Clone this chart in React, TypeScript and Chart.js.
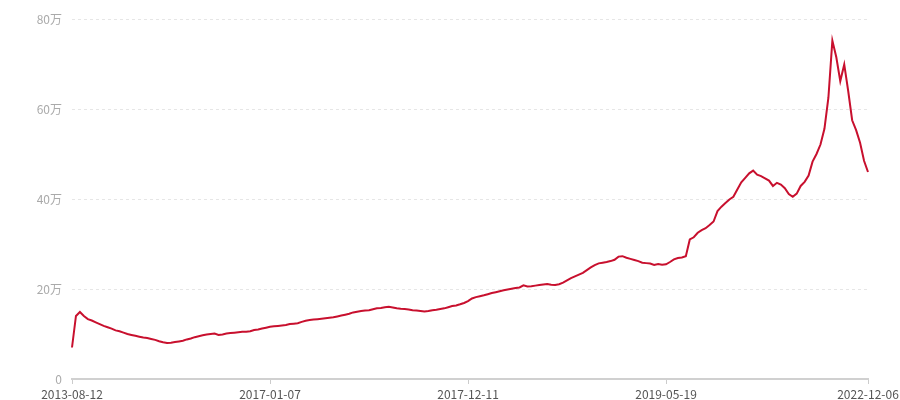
import React, { useEffect, useRef } from 'react';
import { Chart, registerables } from 'chart.js';

Chart.register(...registerables);

// dates printed under the axis, and the point index each one sits on
const tickDates = ['2013-08-12', '2017-01-07', '2017-12-11', '2019-05-19', '2022-12-06'];
const tickIndex = [0, 50, 100, 150, 201];

// values in 万
const values = [
  7.0, 14.0, 14.9, 14.0, 13.3, 13.0, 12.6, 12.2, 11.8, 11.5,
  11.2, 10.8, 10.6, 10.3, 10.0, 9.8, 9.6, 9.4, 9.2, 9.1,
  8.9, 8.7, 8.4, 8.15, 8.0, 8.05, 8.2, 8.35, 8.5, 8.8,
  9.0, 9.3, 9.5, 9.7, 9.9, 10.0, 10.1, 9.8, 9.9, 10.1,
  10.2, 10.3, 10.4, 10.5, 10.5, 10.6, 10.9, 11.0, 11.2, 11.4,
  11.6, 11.7, 11.8, 11.9, 12.0, 12.2, 12.3, 12.4, 12.7, 12.95,
  13.1, 13.2, 13.3, 13.4, 13.5, 13.6, 13.7, 13.9, 14.1, 14.3,
  14.5, 14.8, 14.95, 15.1, 15.2, 15.3, 15.5, 15.7, 15.8, 15.95,
  16.05, 15.9, 15.7, 15.6, 15.55, 15.45, 15.3, 15.2, 15.1, 15.0,
  15.1, 15.3, 15.4, 15.55, 15.7, 15.95, 16.2, 16.35, 16.6, 16.9,
  17.3, 17.9, 18.2, 18.4, 18.6, 18.85, 19.1, 19.3, 19.5, 19.7,
  19.9, 20.05, 20.2, 20.35, 20.8, 20.55, 20.6, 20.75, 20.9, 21.0,
  21.1, 20.95, 20.9, 21.05, 21.4, 21.9, 22.4, 22.8, 23.2, 23.6,
  24.2, 24.8, 25.3, 25.7, 25.85, 26.0, 26.2, 26.5, 27.2, 27.3,
  26.95, 26.7, 26.45, 26.2, 25.85, 25.75, 25.65, 25.35, 25.55, 25.4,
  25.5, 26.0, 26.6, 26.9, 27.0, 27.3, 31.0, 31.5, 32.5, 33.1,
  33.5, 34.2, 35.0, 37.3, 38.3, 39.1, 39.9, 40.5, 42.1, 43.7,
  44.7, 45.7, 46.3, 45.4, 45.1, 44.6, 44.1, 42.9, 43.6, 43.2,
  42.4, 41.1, 40.5, 41.2, 42.9, 43.8, 45.2, 48.3, 50.0, 52.1,
  55.6, 62.5, 75.2, 71.5, 66.2, 69.9, 64.0, 57.5, 55.3, 52.5,
  48.5, 46.0,
];

const yTicks = [0, 20, 40, 60, 80];

// fill the category labels between the known dates (only the known ones are shown)
const toDay = (s: string) => Date.parse(s + 'T00:00:00Z') / 86400000;
const labels = values.map((_, i) => {
  let k = 0;
  while (k < tickIndex.length - 2 && i > tickIndex[k + 1]) k++;
  const i0 = tickIndex[k], i1 = tickIndex[k + 1];
  const d0 = toDay(tickDates[k]), d1 = toDay(tickDates[k + 1]);
  const d = Math.round(d0 + ((d1 - d0) * (i - i0)) / (i1 - i0));
  return new Date(d * 86400000).toISOString().slice(0, 10);
});

const FONT = '"Noto Sans CJK SC", "Noto Sans", sans-serif';

export default function App() {
  const canvasRef = useRef<HTMLCanvasElement>(null);

  useEffect(() => {
    document.body.style.margin = '0';
    const ctx = canvasRef.current?.getContext('2d');
    if (!ctx) return;

    const chart = new Chart(ctx, {
      type: 'line',
      data: {
        labels,
        datasets: [
          {
            data: values,
            borderColor: '#c8102e',
            borderWidth: 2,
            pointRadius: 0,
            tension: 0,
            fill: false,
          },
        ],
      },
      options: {
        responsive: false,
        animation: false,
        layout: { padding: { top: 19, right: 32, left: 0, bottom: 0 } },
        plugins: { legend: { display: false }, tooltip: { enabled: false } },
        scales: {
          x: {
            offset: false,
            grid: {
              display: true,
              drawOnChartArea: false,
              drawTicks: true,
              tickLength: 5,
              color: '#cccccc',
            },
            border: { display: true, color: '#d0d0d0', width: 2 },
            ticks: {
              autoSkip: false,
              maxRotation: 0,
              padding: 3,
              color: '#555555',
              font: { family: FONT, size: 12 },
            },
            afterBuildTicks: (scale: any) => {
              scale.ticks = scale.ticks.filter((t: any) => tickIndex.includes(t.value));
            },
            afterFit: (scale: any) => {
              scale.height = 21;
              scale.paddingLeft = 0;
              scale.paddingRight = 0;
            },
          },
          y: {
            min: yTicks[0],
            max: yTicks[yTicks.length - 1],
            afterBuildTicks: (scale: any) => {
              scale.ticks = yTicks.map((v) => ({ value: v }));
            },
            grid: {
              drawTicks: false,
              color: (c: any) => (c.tick && c.tick.value === 0 ? 'rgba(0,0,0,0)' : '#e6e6e6'),
            },
            border: { display: false, dash: [3, 3] },
            ticks: {
              padding: 10,
              color: '#aaaaaa',
              font: { family: FONT, size: 12 },
              callback: (v: any) => (Number(v) === 0 ? '0' : `${v}万`),
            },
            afterFit: (scale: any) => {
              scale.width = 72;
            },
          },
        },
      },
    });

    return () => {
      chart.destroy();
    };
  }, []);

  return (
    <div style={{ width: 900, height: 400, position: 'relative' }}>
      <canvas ref={canvasRef} width={900} height={400} />
    </div>
  );
}
